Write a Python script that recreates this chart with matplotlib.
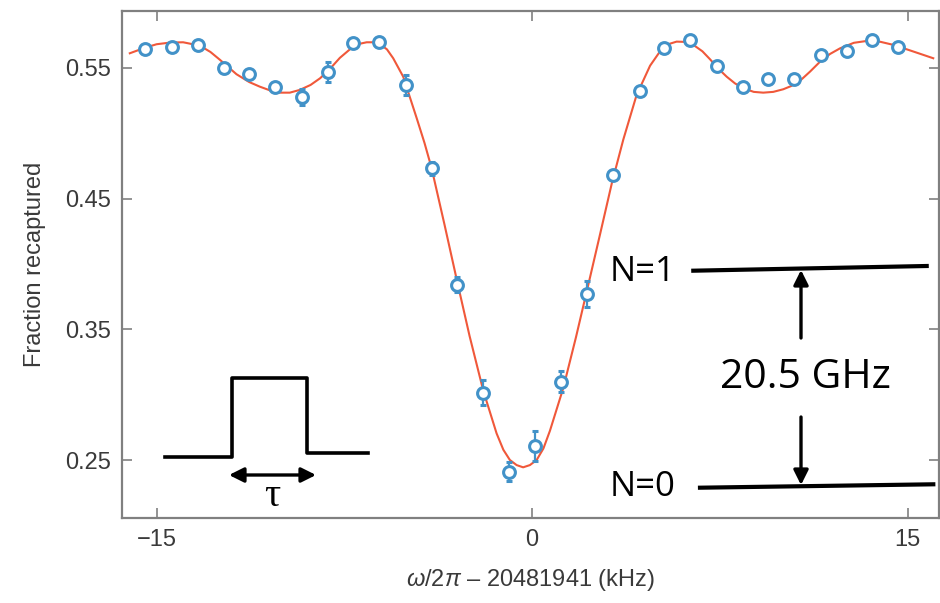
import numpy as np
import matplotlib
matplotlib.use("Agg")
import matplotlib.pyplot as plt
from matplotlib.lines import Line2D
from matplotlib.patches import FancyArrowPatch

plt.rcParams['font.family'] = ['Liberation Sans', 'DejaVu Sans']
plt.rcParams['mathtext.fontset'] = 'custom'
plt.rcParams['mathtext.it'] = 'Liberation Sans:italic'
plt.rcParams['mathtext.rm'] = 'Liberation Sans'

# measured points (detuning in kHz, fraction recaptured, error)
det = [-15.47, -14.40, -13.36, -12.31, -11.30, -10.26, -9.21, -8.17, -7.15, -6.11,
       -5.05, -4.02, -2.99, -1.95, -0.91, 0.12, 1.15, 2.18, 3.22, 4.31,
       5.28, 6.32, 7.40, 8.43, 9.43, 10.46, 11.54, 12.59, 13.59, 14.63]
frac = [0.5641, 0.5656, 0.5671, 0.5498, 0.5454, 0.5350, 0.5278, 0.5467, 0.5687, 0.5696,
        0.5368, 0.4732, 0.3840, 0.3017, 0.2413, 0.2609, 0.3101, 0.3769, 0.4676, 0.5324,
        0.5653, 0.5712, 0.5511, 0.5350, 0.5411, 0.5411, 0.5597, 0.5630, 0.5712, 0.5656]
err = [0.003, 0.003, 0.003, 0.004, 0.003, 0.003, 0.006, 0.0075, 0.003, 0.003,
       0.0075, 0.005, 0.0057, 0.0095, 0.007, 0.0115, 0.008, 0.010, 0.003, 0.003,
       0.003, 0.003, 0.004, 0.003, 0.003, 0.003, 0.004, 0.003, 0.003, 0.003]

# fit curve
fit_x = [-16.07, -15.50, -15.0, -14.45, -13.94, -13.27, -12.85, -12.47, -11.81, -11.30,
         -10.88, -10.45, -10.08, -9.68, -9.28, -8.85, -8.47, -8.08, -7.68, -7.28,
         -6.95, -6.61, -6.30, -6.08, -5.80, -5.55, -5.15, -4.61, -4.30, -4.02,
         -3.50, -3.00, -2.50, -1.95, -1.42, -1.15, -0.89, -0.62, -0.36, -0.09,
         0.18, 0.45, 0.71, 1.24, 1.75, 2.24, 2.71, 3.18, 3.64, 4.17,
         4.71, 5.11, 5.45, 5.77, 6.10, 6.44, 6.80, 7.10, 7.45, 7.77,
         8.10, 8.43, 8.85, 9.23, 9.63, 10.03, 10.35, 10.70, 11.10, 11.50,
         11.90, 12.30, 12.85, 13.36, 13.90, 14.43, 15.20, 16.02]
fit_y = [0.5610, 0.5650, 0.5679, 0.5692, 0.5694, 0.5668, 0.5620, 0.5560, 0.5450, 0.5390,
         0.5355, 0.5325, 0.5309, 0.5309, 0.5330, 0.5368, 0.5419, 0.5490, 0.5575, 0.5640,
         0.5680, 0.5694, 0.5694, 0.5680, 0.5640, 0.5572, 0.5431, 0.5113, 0.4925, 0.4735,
         0.4300, 0.3870, 0.3450, 0.3030, 0.2705, 0.2580, 0.2502, 0.2463, 0.2446, 0.2463,
         0.2502, 0.2590, 0.2725, 0.3050, 0.3440, 0.3839, 0.4225, 0.4615, 0.4950, 0.5290,
         0.5515, 0.5625, 0.5680, 0.5699, 0.5697, 0.5674, 0.5625, 0.5565, 0.5490, 0.5431,
         0.5380, 0.5343, 0.5315, 0.5309, 0.5315, 0.5335, 0.5360, 0.5400, 0.5470, 0.5546,
         0.5605, 0.5648, 0.5690, 0.5704, 0.5698, 0.5674, 0.5625, 0.5572]

xticks = [-15, 0, 15]
yticks = [0.25, 0.35, 0.45, 0.55]

W, H = 940, 603
fig = plt.figure(figsize=(W / 100, H / 100), dpi=100)
ax = fig.add_axes([122.3 / W, 1 - 517.7 / H, (939 - 122.3) / W, (517.7 - 11) / H])

grey = '#808080'
txt = '#3a3a3a'
blue = '#4292c8'

ax.plot(fit_x, fit_y, color='#f0583a', lw=1.5, solid_joinstyle='round', zorder=2)
ax.errorbar(det, frac, yerr=err, fmt='o', ms=8.5, mfc='white', mec=blue, mew=2.2,
            ecolor=blue, elinewidth=1.6, capsize=2.5, capthick=1.6, zorder=3)

ax.set_xlim(-16.37, 16.25)
ax.set_ylim(0.2061, 0.5933)
ax.set_xticks(xticks)
ax.set_xticklabels(['\u221215', '0', '15'])
ax.set_yticks(yticks)
ax.set_yticklabels(['0.25', '0.35', '0.45', '0.55'])
ax.tick_params(direction='in', length=7, width=1.2, color=grey, labelsize=17,
               labelcolor=txt, top=True, right=True, pad=8)
for s in ax.spines.values():
    s.set_color(grey)
    s.set_linewidth(1.6)

ax.set_xlabel('$\\omega/2\\pi$ \u2013 20481941 (kHz)', fontsize=17, color=txt, labelpad=12)
ax.set_ylabel('Fraction recaptured', fontsize=17, color=txt, labelpad=14)


def fp(x, y):
    return (x / W, 1 - y / H)


def line(pts, lw=2.6):
    xs = [p[0] / W for p in pts]
    ys = [1 - p[1] / H for p in pts]
    fig.add_artist(Line2D(xs, ys, color='black', lw=lw, transform=fig.transFigure))


def arrow(p0, p1, style):
    fig.add_artist(FancyArrowPatch(fp(*p0), fp(*p1), transform=fig.transFigure,
                                   arrowstyle=style, mutation_scale=22, color='black',
                                   lw=2.4, shrinkA=0, shrinkB=0))


# pulse sketch
line([(165, 456.7), (232.3, 456.7), (232.3, 378.3), (307.3, 378.3),
      (307.3, 453.3), (367.7, 453.3)])
arrow((229, 475), (316, 475), '<|-|>')
fig.text(*fp(272, 496), '\u03c4', fontsize=29, family='Liberation Serif',
         ha='center', va='center')

# energy levels
line([(693.3, 270.7), (926.7, 266)], lw=3)
line([(700, 487.7), (933.3, 484.3)], lw=3)
arrow((801, 338), (801, 270), '-|>')
arrow((801, 417), (801, 485), '-|>')
fig.text(*fp(610, 272), 'N=1', fontsize=25, family='Open Sans', ha='left', va='center')
fig.text(*fp(610, 487), 'N=0', fontsize=25, family='Open Sans', ha='left', va='center')
fig.text(*fp(805, 378), '20.5 GHz', fontsize=29.5, family='Open Sans',
         ha='center', va='center')

fig.savefig('out.png', dpi=100)
